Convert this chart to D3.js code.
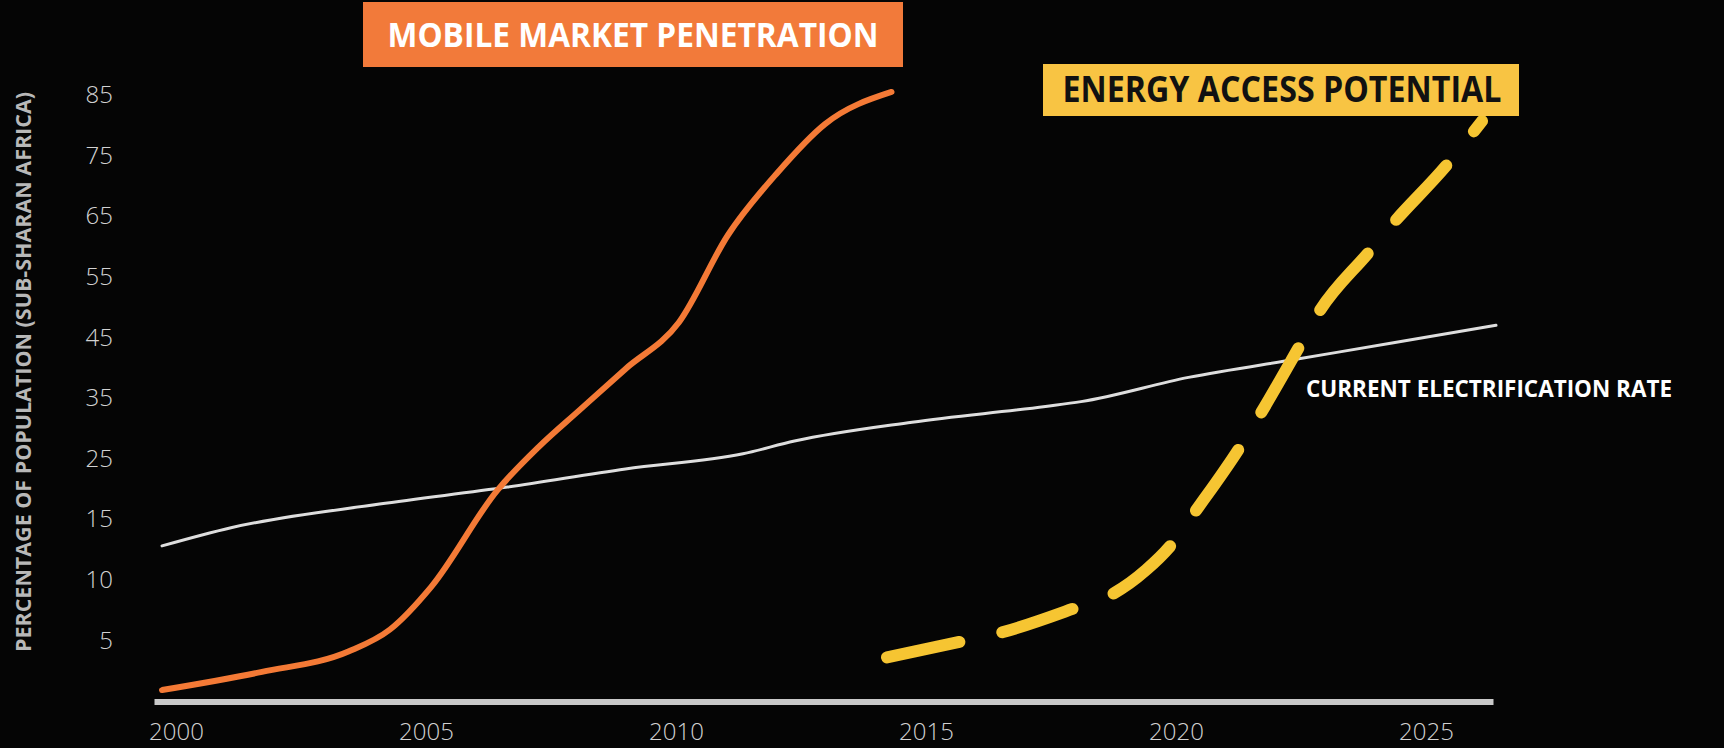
<!DOCTYPE html>
<html>
<head>
<meta charset="utf-8">
<script src="https://cdn.jsdelivr.net/npm/d3@7"></script>
<style>
  html, body { margin: 0; padding: 0; background: #050505; }
  svg { display: block; }
</style>
</head>
<body>
<div id="chart"></div>
<script>
// x axis labels
const years = [2000, 2005, 2010, 2015, 2020, 2025]
// y axis labels (uneven steps, evenly spaced on the chart)
const yTicks = [5, 10, 15, 25, 35, 45, 55, 65, 75, 85]

// mobile market penetration (orange)
const mobileYears  = [1999.72, 2001.72, 2003.46, 2004.28, 2005.10, 2006.43, 2007.25, 2008.07, 2008.99, 2010.06, 2011.04, 2012.02, 2012.98, 2014.31]
const mobileValues = [0.9, 2.4, 4.1, 5.9, 9.4, 19.8, 26.9, 33, 39.8, 47.5, 61.9, 72.1, 80.2, 85.5]

// current electrification rate (white)
const electYears  = [1999.72, 2001.10, 2004.07, 2006.63, 2008.99, 2011.34, 2012.37, 2014.72, 2017.39, 2018.10, 2020.25, 2022.40, 2024.35, 2026.40]
const electValues = [12.8, 14.3, 17.5, 20.3, 23.3, 25.8, 27.9, 31.0, 33.6, 34.4, 38.4, 41.4, 44.1, 47.0]

// energy access potential (yellow, dashed)
const energyYears  = [2014.22, 2015.75, 2016.46, 2018.00, 2018.72, 2019.40, 2019.93, 2020.38, 2021.28, 2021.69, 2022.46, 2022.86, 2023.84, 2024.35, 2025.40, 2026.12]
const energyValues = [3.6, 4.95, 5.6, 7.7, 8.8, 10.8, 13.0, 16.2, 26.9, 32.4, 43.4, 49.2, 58.9, 63.9, 73.3, 80.7]

const axisStartYear = 1999.57
const axisEndYear = 2026.35

const width = 1724, height = 748

const svg = d3.select("#chart")
    .append("svg")
    .attr("width", width)
    .attr("height", height)
    .style("background", "#050505")

// scales
var x = d3.scaleLinear()
    .domain([2000, 2025])
    .range([176, 1426])

// piecewise scale: every label gets the same vertical step
const yDomain = [0].concat(yTicks)
var y = d3.scaleLinear()
    .domain(yDomain)
    .range(yDomain.map((d, i) => 701 - i * 60.6))

// baseline
svg.append("line")
    .attr("x1", x(axisStartYear))
    .attr("x2", x(axisEndYear))
    .attr("y1", y(0) + 1)
    .attr("y2", y(0) + 1)
    .attr("stroke", "#c9c9c9")
    .attr("stroke-width", 6)

// x axis
const xAxis = svg.append("g")
    .attr("transform", "translate(0," + (y(0) + 1) + ")")
    .call(d3.axisBottom(x).tickValues(years).tickSize(0).tickPadding(21).tickFormat(d3.format("d")))
xAxis.select(".domain").remove()
xAxis.selectAll("text")
    .attr("fill", "#d2d2d2")
    .style("font-family", "'Open Sans', sans-serif")
    .style("font-weight", 300)
    .style("font-size", "24px")

// y axis
const yAxis = svg.append("g")
    .attr("transform", "translate(113,0)")
    .call(d3.axisLeft(y).tickValues(yTicks).tickSize(0).tickPadding(0))
yAxis.select(".domain").remove()
yAxis.selectAll("text")
    .attr("fill", "#d2d2d2")
    .style("font-family", "'Open Sans', sans-serif")
    .style("font-weight", 300)
    .style("font-size", "24px")

// y axis label
svg.append("text")
    .attr("transform", "translate(31,372) rotate(-90)")
    .attr("text-anchor", "middle")
    .attr("textLength", 560)
    .attr("lengthAdjust", "spacingAndGlyphs")
    .attr("fill", "#b8b8b8")
    .style("font-family", "'Open Sans', sans-serif")
    .style("font-weight", 700)
    .style("font-size", "22px")
    .text("PERCENTAGE OF POPULATION (SUB-SHARAN AFRICA)")

const line = d3.line()
    .x(d => x(d[0]))
    .y(d => y(d[1]))
    .curve(d3.curveMonotoneX)

// electrification
svg.append("path")
    .datum(d3.zip(electYears, electValues))
    .attr("d", line)
    .attr("fill", "none")
    .attr("stroke", "#dedede")
    .attr("stroke-width", 3)
    .attr("stroke-linecap", "round")

// mobile
svg.append("path")
    .datum(d3.zip(mobileYears, mobileValues))
    .attr("d", line)
    .attr("fill", "none")
    .attr("stroke", "#f47a36")
    .attr("stroke-width", 6)
    .attr("stroke-linecap", "round")

// energy access potential
svg.append("path")
    .datum(d3.zip(energyYears, energyValues))
    .attr("d", line)
    .attr("fill", "none")
    .attr("stroke", "#f6c532")
    .attr("stroke-width", 12)
    .attr("stroke-linecap", "round")
    .attr("stroke-dasharray", "74,44")

// title boxes
svg.append("rect")
    .attr("x", 363).attr("y", 2)
    .attr("width", 540).attr("height", 65)
    .attr("fill", "#f27a3a")
svg.append("text")
    .attr("x", 633).attr("y", 47)
    .attr("text-anchor", "middle")
    .attr("textLength", 491)
    .attr("lengthAdjust", "spacingAndGlyphs")
    .attr("fill", "#ffffff")
    .style("font-family", "'Open Sans', sans-serif")
    .style("font-weight", 700)
    .style("font-size", "34px")
    .text("MOBILE MARKET PENETRATION")

svg.append("rect")
    .attr("x", 1043).attr("y", 64)
    .attr("width", 476).attr("height", 52)
    .attr("fill", "#f8c443")
svg.append("text")
    .attr("x", 1282).attr("y", 102)
    .attr("text-anchor", "middle")
    .attr("textLength", 439)
    .attr("lengthAdjust", "spacingAndGlyphs")
    .attr("fill", "#111111")
    .style("font-family", "'Open Sans', sans-serif")
    .style("font-weight", 700)
    .style("font-size", "35px")
    .text("ENERGY ACCESS POTENTIAL")

// series label
svg.append("text")
    .attr("x", 1306).attr("y", 397)
    .attr("textLength", 366)
    .attr("lengthAdjust", "spacingAndGlyphs")
    .attr("fill", "#ffffff")
    .style("font-family", "'Open Sans', sans-serif")
    .style("font-weight", 700)
    .style("font-size", "23px")
    .text("CURRENT ELECTRIFICATION RATE")
</script>
</body>
</html>
